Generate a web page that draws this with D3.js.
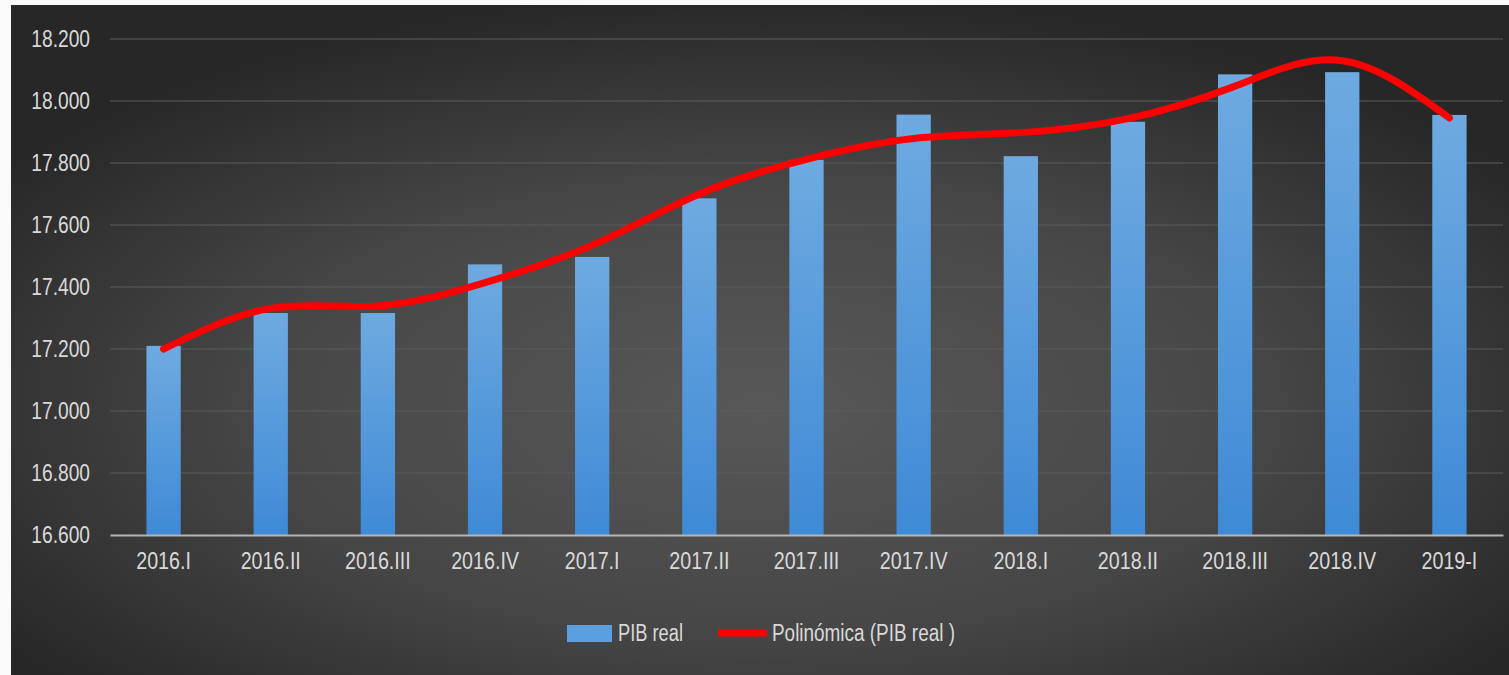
<!DOCTYPE html>
<html>
<head>
<meta charset="utf-8">
<script src="https://cdn.jsdelivr.net/npm/d3@7"></script>
<style>
  html, body { margin: 0; padding: 0; background: #fafafa; overflow: hidden; }
  svg { display: block; }
</style>
</head>
<body>
<div id="chart"></div>
<script>
// Data
var quarters = ["2016.I", "2016.II", "2016.III", "2016.IV", "2017.I", "2017.II", "2017.III",
  "2017.IV", "2018.I", "2018.II", "2018.III", "2018.IV", "2019-I"];
var pibReal = [17210, 17316, 17316, 17473, 17497, 17686, 17810, 17956, 17822, 17933, 18086, 18093, 17955];
var trendPib = [17200, 17331, 17339, 17414, 17535, 17700, 17812, 17879, 17898, 17943, 18048, 18130, 17945];
var yTicks = [16600, 16800, 17000, 17200, 17400, 17600, 17800, 18000, 18200];
var legendLabels = ["PIB real", "Polinómica (PIB real )"];

var svgWidth = 1509;
var svgHeight = 675;

var margin = { top: 39, right: 6, bottom: 140, left: 110 };
var plotBottom = svgHeight - margin.bottom;

var svg = d3.select("#chart")
  .append("svg")
  .attr("width", svgWidth)
  .attr("height", svgHeight);

var defs = svg.append("defs");

// panel background
var bg = defs.append("radialGradient")
  .attr("id", "bgGrad")
  .attr("cx", "50%").attr("cy", "60%").attr("r", "62%");
bg.append("stop").attr("offset", "0%").attr("stop-color", "#585858");
bg.append("stop").attr("offset", "55%").attr("stop-color", "#464646");
bg.append("stop").attr("offset", "100%").attr("stop-color", "#272727");

var barGrad = defs.append("linearGradient")
  .attr("id", "barGrad")
  .attr("x1", 0).attr("y1", 0).attr("x2", 0).attr("y2", 1);
barGrad.append("stop").attr("offset", "0%").attr("stop-color", "#6eaae0");
barGrad.append("stop").attr("offset", "100%").attr("stop-color", "#3f8ad6");

svg.append("rect")
  .attr("x", 11).attr("y", 5)
  .attr("width", svgWidth - 11).attr("height", svgHeight - 5)
  .attr("fill", "url(#bgGrad)");

// scales
var xScale = d3.scaleBand()
  .domain(quarters)
  .range([margin.left, svgWidth - margin.right])
  .paddingInner(0.68)
  .paddingOuter(0.34);

var yScale = d3.scaleLinear()
  .domain([16600, 18200])
  .range([plotBottom, margin.top]);

var esLocale = d3.formatLocale({ decimal: ",", thousands: ".", grouping: [3], currency: ["", ""] });
var fmt = esLocale.format(",");

var fontFam = "'Liberation Sans', Arial, sans-serif";

// squeeze text horizontally, like the narrow labels of the original
function narrow(sel, factor) {
  sel.each(function() {
    var w = this.getComputedTextLength();
    d3.select(this)
      .attr("textLength", w * factor)
      .attr("lengthAdjust", "spacingAndGlyphs");
  });
}

// gridlines
svg.append("g")
  .selectAll("line")
  .data(yTicks.slice(1))
  .enter()
  .append("line")
  .attr("x1", margin.left)
  .attr("x2", svgWidth - margin.right)
  .attr("y1", d => yScale(d))
  .attr("y2", d => yScale(d))
  .attr("stroke", "#5c5c5c")
  .attr("stroke-width", 1.2);

// y axis labels
var leftAxis = d3.axisLeft(yScale)
  .tickValues(yTicks)
  .tickFormat(fmt)
  .tickSize(0)
  .tickPadding(20);

var yAxisG = svg.append("g")
  .attr("transform", `translate(${margin.left}, 0)`)
  .call(leftAxis);
yAxisG.select(".domain").remove();
yAxisG.selectAll("text")
  .attr("fill", "#d9d9d9")
  .style("font-family", fontFam)
  .style("font-size", "24px")
  .call(narrow, 0.8);

// bars
svg.append("g")
  .selectAll("rect")
  .data(quarters)
  .enter()
  .append("rect")
  .attr("x", d => xScale(d))
  .attr("y", (d, i) => yScale(pibReal[i]))
  .attr("width", xScale.bandwidth())
  .attr("height", (d, i) => plotBottom - yScale(pibReal[i]))
  .attr("fill", "url(#barGrad)");

// x axis
var bottomAxis = d3.axisBottom(xScale).tickSize(0).tickPadding(17);
var xAxisG = svg.append("g")
  .attr("transform", `translate(0, ${plotBottom})`)
  .call(bottomAxis);
xAxisG.select(".domain")
  .attr("stroke", "#b5b5b5")
  .attr("stroke-width", 2);
xAxisG.selectAll("text")
  .attr("fill", "#d9d9d9")
  .style("font-family", fontFam)
  .style("font-size", "24px")
  .call(narrow, 0.82);

// trend line
var line = d3.line()
  .x((d, i) => xScale(quarters[i]) + xScale.bandwidth() / 2)
  .y(d => yScale(d))
  .curve(d3.curveNatural);

svg.append("path")
  .datum(trendPib)
  .attr("d", line)
  .attr("fill", "none")
  .attr("stroke", "#ff0000")
  .attr("stroke-width", 7)
  .attr("stroke-linecap", "round")
  .attr("stroke-linejoin", "round");

// legend
var legend = svg.append("g").attr("transform", "translate(567, 633)");
legend.append("rect")
  .attr("x", 0).attr("y", -8)
  .attr("width", 45).attr("height", 17)
  .attr("fill", "#5a9fe0");
legend.append("text")
  .attr("x", 51).attr("y", 0).attr("dy", "0.35em")
  .attr("fill", "#d9d9d9")
  .style("font-family", fontFam)
  .style("font-size", "23px")
  .attr("textLength", 65)
  .attr("lengthAdjust", "spacingAndGlyphs")
  .text(legendLabels[0]);
legend.append("line")
  .attr("x1", 151).attr("x2", 200)
  .attr("y1", 0).attr("y2", 0)
  .attr("stroke", "#ff0000")
  .attr("stroke-width", 7);
legend.append("text")
  .attr("x", 205).attr("y", 0).attr("dy", "0.35em")
  .attr("fill", "#d9d9d9")
  .style("font-family", fontFam)
  .style("font-size", "23px")
  .attr("textLength", 183)
  .attr("lengthAdjust", "spacingAndGlyphs")
  .text(legendLabels[1]);
</script>
</body>
</html>
